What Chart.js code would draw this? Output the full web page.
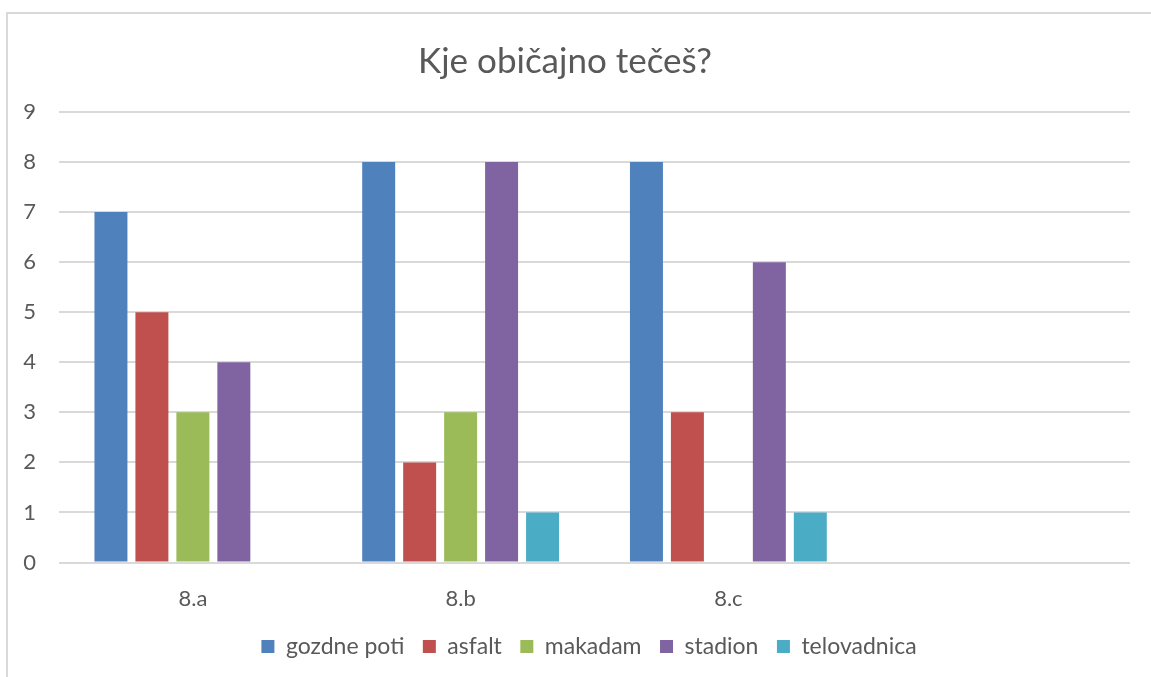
<!DOCTYPE html>
<html>
<head>
<meta charset="utf-8">
<script src="https://cdn.jsdelivr.net/npm/chart.js@4"></script>
<style>
  html, body { margin: 0; padding: 0; background: #fff; overflow: hidden; }
  #wrap { position: relative; width: 1151px; height: 677px; }
  #frame { position: absolute; left: 6px; top: 12px; width: 1200px; height: 700px; border: 2px solid #d9d9d9; box-sizing: border-box; }
  canvas { position: absolute; left: 0; top: 0; }
</style>
</head>
<body>
<div id="wrap">
  <div id="frame"></div>
  <canvas id="myChart" width="1151" height="677"></canvas>
</div>
<script>
const categories = ["8.a", "8.b", "8.c", ""]
const gozdnePoti = [7, 8, 8, null]
const asfalt = [5, 2, 3, null]
const makadam = [3, 3, null, null]
const stadion = [4, 8, 6, null]
const telovadnica = [null, 1, 1, null]
const yTicks = [0, 1, 2, 3, 4, 5, 6, 7, 8, 9]

const font = "Lato, 'Open Sans', sans-serif"
const grey = "#595959"

const series = [
  ["gozdne poti", gozdnePoti, "#4F81BD"],
  ["asfalt", asfalt, "#C0504D"],
  ["makadam", makadam, "#9BBB59"],
  ["stadion", stadion, "#8064A2"],
  ["telovadnica", telovadnica, "#4BACC6"]
]

// legend sits a bit right of centre in the original
const nudgeLegend = {
  id: "nudgeLegend",
  afterLayout: (chart) => {
    chart.legend.left += 24
    chart.legend.right += 24
  }
}

let ctx = document.querySelector("#myChart")
let myChart = new Chart(ctx, {
  type: "bar",
  data: {
    labels: categories,
    datasets: series.map(([label, data, color]) => ({
      label: label,
      data: data,
      backgroundColor: color,
      borderWidth: 0,
      categoryPercentage: 0.765,
      barPercentage: 0.805
    }))
  },
  plugins: [nudgeLegend],
  options: {
    responsive: false,
    animation: false,
    layout: { padding: { left: 0, right: 21, top: 0, bottom: 9 } },
    plugins: {
      tooltip: { enabled: false },
      title: {
        display: true,
        text: "Kje običajno tečeš?",
        color: grey,
        font: { family: font, size: 35, weight: "normal" },
        padding: { top: 41, bottom: 29 }
      },
      legend: {
        position: "bottom",
        labels: {
          color: grey,
          font: { family: font, size: 23 },
          boxWidth: 13,
          boxHeight: 13,
          padding: 18.5
        }
      }
    },
    scales: {
      x: {
        grid: { display: false },
        border: { display: false },
        ticks: { color: grey, font: { family: font, size: 22 }, padding: 15 },
        afterFit: (scale) => { scale.height = 54 }
      },
      y: {
        min: 0,
        max: 9,
        afterBuildTicks: (scale) => { scale.ticks = yTicks.map(v => ({ value: v })) },
        grid: { color: "#d9d9d9", lineWidth: 2, drawTicks: false },
        border: { display: false },
        ticks: { color: grey, font: { family: font, size: 22 }, padding: 23 },
        afterFit: (scale) => { scale.width = 59 }
      }
    }
  }
})
</script>
</body>
</html>
